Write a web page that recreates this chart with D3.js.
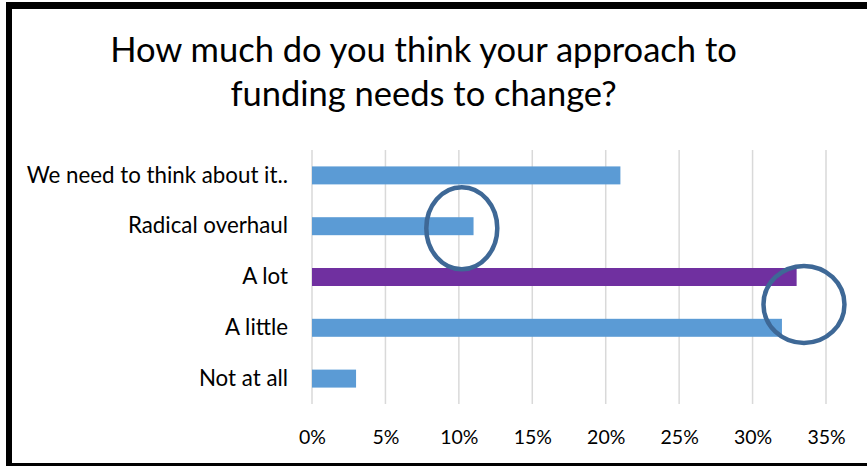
<!DOCTYPE html>
<html>
<head>
<meta charset="utf-8">
<script src="https://cdn.jsdelivr.net/npm/d3@7"></script>
<style>
  html, body { margin: 0; padding: 0; background: #fff; }
  svg { display: block; font-family: Lato, "Open Sans", sans-serif; }
</style>
</head>
<body>
<svg id="chart" width="867" height="466"></svg>
<script>
// Survey answers, listed top to bottom as shown on the chart
const categories = [
  "We need to think about it..",
  "Radical overhaul",
  "A lot",
  "A little",
  "Not at all"
];
// Share of respondents (fraction) for each answer
const values = [0.21, 0.11, 0.33, 0.32, 0.03];
// Answer drawn in the highlight colour
const highlighted = ["A lot"];
// Horizontal axis ticks
const tickValues = [0, 0.05, 0.10, 0.15, 0.20, 0.25, 0.30, 0.35];
// Title lines
const titleLines = ["How much do you think your approach to", "funding needs to change?"];
// Hand-drawn rings: centred on a value and an answer (or between two answers)
const rings = [
  { value: 0.102, between: ["Radical overhaul", "Radical overhaul"], rx: 35.5, ry: 41 },
  { value: 0.335, between: ["A lot", "A little"], rx: 40.5, ry: 38.5 }
];

const svg = d3.select("#chart");
const W = 867, H = 466;

svg.append("rect").attr("width", W).attr("height", H).attr("fill", "#fff");

// Frame: thick black edges on left, top and bottom
const frame = svg.append("g").attr("fill", "#000");
frame.append("rect").attr("x", 6).attr("y", 2).attr("width", 6).attr("height", H - 2);
frame.append("rect").attr("x", 6).attr("y", 2).attr("width", W - 6).attr("height", 7);
frame.append("rect").attr("x", 6).attr("y", 463).attr("width", W - 6).attr("height", 3);

const plot = { left: 312, right: 826, top: 150, bottom: 404 };

const x = d3.scaleLinear().domain([0, 0.35]).range([plot.left, plot.right]);
const y = d3.scaleBand().domain(categories).range([plot.top, plot.bottom])
  .paddingInner(0.646).paddingOuter(0.323);

// Title
svg.append("g").selectAll("text").data(titleLines).join("text")
  .attr("x", 423.5)
  .attr("y", (d, i) => 62 + i * 44)
  .attr("text-anchor", "middle")
  .attr("font-size", 34.5)
  .attr("fill", "#000")
  .text(d => d);

// Vertical gridlines
svg.append("g").selectAll("line").data(tickValues).join("line")
  .attr("x1", d => x(d)).attr("x2", d => x(d))
  .attr("y1", plot.top).attr("y2", plot.bottom)
  .attr("stroke", "#d9d9d9").attr("stroke-width", 1.5);

// Bars
svg.append("g").selectAll("rect").data(categories).join("rect")
  .attr("x", x(0))
  .attr("y", d => y(d))
  .attr("width", (d, i) => x(values[i]) - x(0))
  .attr("height", y.bandwidth())
  .attr("fill", d => highlighted.includes(d) ? "#7030a0" : "#5b9bd5");

// Category axis (labels only)
const yAxis = svg.append("g")
  .attr("transform", `translate(${plot.left},0)`)
  .call(d3.axisLeft(y).tickSize(0).tickPadding(24));
yAxis.select(".domain").remove();
yAxis.selectAll("text")
  .attr("font-family", "Lato, 'Open Sans', sans-serif")
  .attr("font-size", 22.3)
  .attr("fill", "#000");

// Value axis (labels only)
const xAxis = svg.append("g")
  .attr("transform", `translate(0,${plot.bottom})`)
  .call(d3.axisBottom(x).tickValues(tickValues).tickFormat(d3.format(".0%")).tickSize(0).tickPadding(26));
xAxis.select(".domain").remove();
xAxis.selectAll("text")
  .attr("font-family", "Lato, 'Open Sans', sans-serif")
  .attr("font-size", 19.5)
  .attr("fill", "#000");

// Annotation rings
svg.append("g").selectAll("ellipse").data(rings).join("ellipse")
  .attr("cx", d => x(d.value))
  .attr("cy", d => (y(d.between[0]) + y(d.between[1])) / 2 + y.bandwidth() / 2 + 2)
  .attr("rx", d => d.rx).attr("ry", d => d.ry)
  .attr("fill", "none")
  .attr("stroke", "#3e6896")
  .attr("stroke-width", 4.5);
</script>
</body>
</html>
